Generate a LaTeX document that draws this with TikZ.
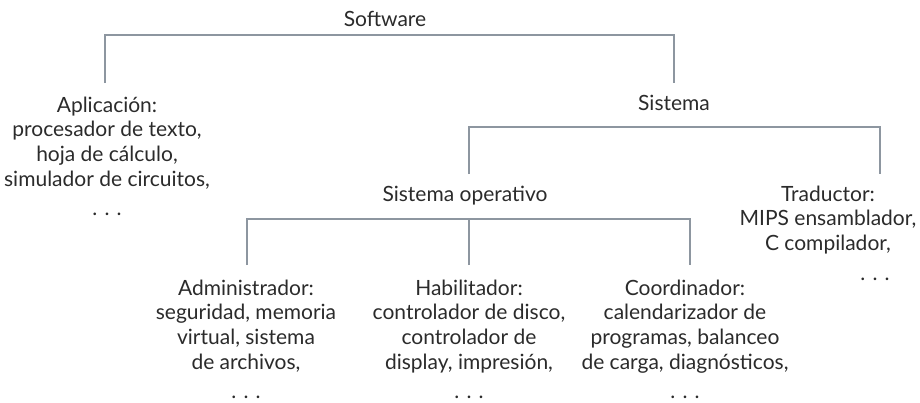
\documentclass[tikz,border=0pt]{standalone}
\usepackage{fontspec}
\setmainfont{Lato}
\definecolor{textc}{HTML}{2B2B2B}
\definecolor{linec}{HTML}{8D96A0}
\newcommand\tp{\rule{0pt}{21pt}}
\begin{document}
\begin{tikzpicture}[x=1pt,y=-1pt,
  lbl/.style={anchor=north, align=center, inner sep=0pt, outer sep=0pt, text=textc,
    font=\fontsize{21}{24.7}\selectfont},
  conn/.style={draw=linec, line width=1.2pt}]
\useasboundingbox (0,0) rectangle (920,402);
\node[lbl] (sw) at (385,5) {\tp Software};
\node[lbl] (app) at (107,91) {\tp Aplicación:\\procesador de texto,\\hoja de cálculo,\\simulador de circuitos,\\[5pt]. . .};
\node[lbl] (sys) at (674,89) {\tp Sistema};
\node[lbl] (so) at (465,180) {\tp Sistema operativo};
\node[lbl] (tr) at (828,180) {\tp Traductor:\\MIPS ensamblador,\\C compilador,\\[5pt]\hspace*{94pt}. . .};
\node[lbl] (adm) at (246,274) {\tp Administrador:\\seguridad, memoria\\virtual, sistema\\de archivos,\\[5pt]. . .};
\node[lbl] (hab) at (469,274) {\tp Habilitador:\\controlador de disco,\\controlador de\\display, impresión,\\[5pt]. . .};
\node[lbl] (coo) at (685,274) {\tp Coordinador:\\calendarizador de\\programas, balanceo\\de carga, diagnósticos,\\[5pt]. . .};
\coordinate (soline) at ([yshift=-39pt]so.north);
\draw[conn] ([xshift=-2pt,yshift=8pt]app.north) |- ([yshift=-30pt]sw.north) -| ([yshift=6pt]sys.north);
\draw[conn] ([xshift=4pt,yshift=6pt]so.north) |- ([yshift=-38pt]sys.north) -| ([xshift=52pt,yshift=6pt]tr.north);
\draw[conn] ([xshift=1pt,yshift=9pt]adm.north) |- (soline) -| ([xshift=5pt,yshift=9pt]coo.north);
\draw[conn] ([yshift=9pt]hab.north) -- (hab.north |- soline);
\end{tikzpicture}
\end{document}
